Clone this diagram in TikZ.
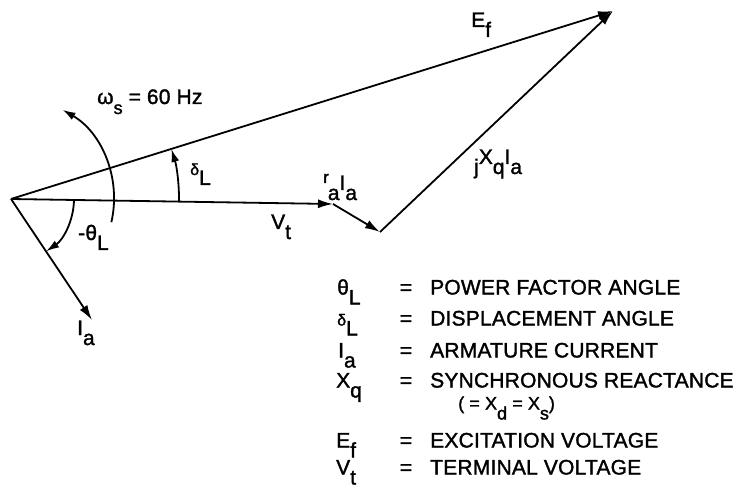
\documentclass[tikz,border=0pt]{standalone}
\usepackage{fontspec}
\setmainfont{Liberation Sans}[FakeBold=1.5,LetterSpace=1]
\usetikzlibrary{arrows.meta,calc}
\newcommand\sbs[1]{\raisebox{-10pt}{#1}}
\newcommand\sps[1]{\raisebox{7pt}{#1}}
\begin{document}
\begin{tikzpicture}[x=1pt,y=-1pt,
  vec/.style={line width=1.8pt,-{Latex[length=15pt,width=9pt]}},
  arcst/.style={line width=1.8pt,-{Latex[length=13pt,width=8pt]}},
  lab/.style={inner sep=0pt,anchor=base west,font=\fontsize{21}{25}\selectfont},
  eq/.style={inner sep=0pt,anchor=base,font=\fontsize{21}{25}\selectfont}]
\useasboundingbox (0,0) rectangle (739,489);
\coordinate (O) at (11,199);
\coordinate (V) at (333,204);
\coordinate (P) at (380,232);
\coordinate (E) at (613,11);
\coordinate (I) at (92,320);
% phasors
\draw[vec] (O) -- (V);
\draw[vec] (V) -- (P);
\draw[vec] (P) -- (E);
\draw[vec] (O) -- (E);
\draw[vec] (O) -- (I);
% arcs (y points down, so positive angles turn downwards on the page)
\draw[arcst] ($(O)+(0.9:168)$) arc[start angle=0.9,end angle=-17.3,radius=168];
\draw[arcst] ($(O)+(13:103)$) arc[start angle=13,end angle=-60,radius=103];
\draw[arcst] ($(O)+(0.9:63)$) arc[start angle=0.9,end angle=56.2,radius=63];
% diagram labels
\node[lab] (lEf) at (471,27) {E\sbs{f}};
\node[lab] (lX) at (474,164) {\sbs{j}X\sbs{q}I\sbs{a}};
\node[lab] (lVt) at (271,229) {V\sbs{t}};
\node[lab] (lra) at (323,190) {\sps{\fontsize{17}{20}\selectfont r}\sbs{\kern-1pt a}I\sbs{a}};
\node[lab] (ldl) at (190,175) {{\fontsize{16}{20}\selectfont δ}\sbs{L}};
\node[lab] (lth) at (78,240) {-θ\sbs{L}};
\node[lab] (lws) at (97,104) {ω\sbs{\fontsize{18}{20}\selectfont s} = 60 Hz};
\node[lab] (lIa) at (77,335) {I\sbs{a}};
% legend
\node[lab] (s1) at (337,294.5) {θ\sbs{L}};
\node[eq]  (q1) at (406,294.5) {=};
\node[lab] (t1) at (430,294.5) {POWER FACTOR ANGLE};
\node[lab] (s2) at (337,325.5) {{\fontsize{16}{20}\selectfont δ}\sbs{L}};
\node[eq]  (q2) at (406,325.5) {=};
\node[lab] (t2) at (430,325.5) {DISPLACEMENT ANGLE};
\node[lab] (s3) at (338,357.5) {I\sbs{a}};
\node[eq]  (q3) at (406,357.5) {=};
\node[lab] (t3) at (430,357.5) {ARMATURE CURRENT};
\node[lab] (s4) at (336,387.5) {X\sbs{q}};
\node[eq]  (q4) at (406,387.5) {=};
\node[lab] (t4) at (430,387.5) {SYNCHRONOUS REACTANCE};
\node[lab,font=\fontsize{18}{20}\selectfont] (t4b) at (458,409.5) {( = X\sbs{d} = X\sbs{s})};
\node[lab] (s5) at (336,447.5) {E\sbs{f}};
\node[eq]  (q5) at (406,447.5) {=};
\node[lab] (t5) at (430,447.5) {EXCITATION VOLTAGE};
\node[lab] (s6) at (336,474.5) {V\sbs{t}};
\node[eq]  (q6) at (406,474.5) {=};
\node[lab] (t6) at (430,474.5) {TERMINAL VOLTAGE};
\end{tikzpicture}
\end{document}
